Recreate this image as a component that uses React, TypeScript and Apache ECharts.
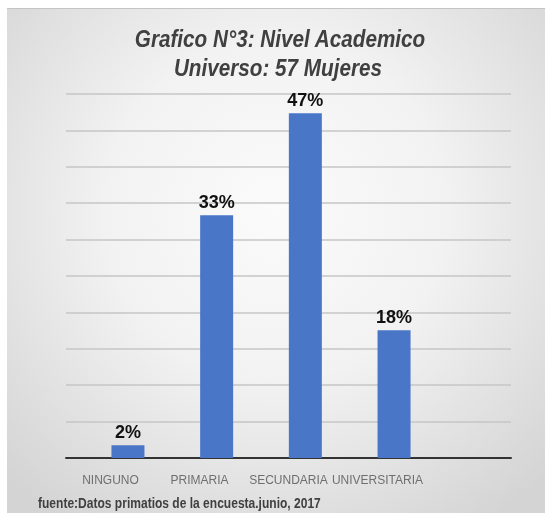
import React, { useEffect, useRef } from "react";
import * as echarts from "echarts";

const categories = ["NINGUNO", "PRIMARIA", "SECUNDARIA", "UNIVERSITARIA"];
const values = [1.75, 33.33, 47.37, 17.54];
const titleLines = ["Grafico N°3: Nivel Academico", "Universo: 57 Mujeres"];
const footer = "fuente:Datos primatios de la encuesta.junio, 2017";

const SANS = '"Liberation Sans", Arial, sans-serif';

export default function App() {
  const ref = useRef<HTMLDivElement>(null);
  useEffect(() => {
    if (!ref.current) return;
    const chart = echarts.init(ref.current, undefined, { renderer: "svg" });
    chart.setOption({
      animation: false,
      backgroundColor: "transparent",
      grid: [
        { left: 59, right: 34, top: 85, bottom: 55 },
        { left: 76.6, right: 106.6, top: 85, bottom: 55 },
      ],
      xAxis: [
        {
          type: "category",
          gridIndex: 0,
          data: [...categories, ""],
          axisLine: { show: true, lineStyle: { color: "#333333", width: 2 } },
          axisTick: { show: false },
          axisLabel: {
            color: "#6f6f6f",
            fontFamily: SANS,
            fontSize: 12,
            margin: 16,
            interval: 0,
          },
        },
        {
          type: "category",
          gridIndex: 1,
          data: categories,
          show: false,
        },
      ],
      yAxis: [
        {
          type: "value",
          gridIndex: 0,
          min: 0,
          max: 50,
          interval: 5,
          axisLabel: { show: false },
          axisLine: { show: false },
          axisTick: { show: false },
          splitLine: { show: true, lineStyle: { color: "#c6c6c6", width: 1.5 } },
        },
        {
          type: "value",
          gridIndex: 1,
          min: 0,
          max: 50,
          interval: 5,
          show: false,
          splitLine: { show: false },
        },
      ],
      series: [
        {
          type: "bar",
          xAxisIndex: 1,
          yAxisIndex: 1,
          data: values,
          barWidth: 33,
          itemStyle: { color: "#4a76c8" },
          label: {
            show: true,
            position: "top",
            distance: 4,
            formatter: (p: any) => Math.round(p.value) + "%",
            fontFamily: SANS,
            fontWeight: "bold",
            fontSize: 18,
            color: "#111111",
          },
        },
      ],
      graphic: [
        {
          type: "text",
          x: 273,
          y: 30.5,
          scaleX: 0.9,
          style: {
            text: titleLines[0],
            font: "italic bold 23px " + SANS,
            fill: "#404040",
            textAlign: "center",
            textVerticalAlign: "middle",
          },
        },
        {
          type: "text",
          x: 271,
          y: 59,
          scaleX: 0.9,
          style: {
            text: titleLines[1],
            font: "italic bold 23px " + SANS,
            fill: "#404040",
            textAlign: "center",
            textVerticalAlign: "middle",
          },
        },
        {
          type: "text",
          x: 31,
          y: 494,
          scaleX: 0.86,
          style: {
            text: footer,
            font: "bold 14px " + SANS,
            fill: "#404040",
            textAlign: "left",
            textVerticalAlign: "middle",
          },
        },
      ],
    });
    return () => chart.dispose();
  }, []);
  return (
    <div
      style={{
        position: "fixed",
        left: 7,
        top: 8,
        width: 538,
        height: 505,
        background:
          "radial-gradient(ellipse 70% 75% at 50% 40%, #fbfbfb 0%, #f2f2f2 45%, #d4d4d4 100%)",
        borderTop: "1px solid #c4c4c4",
        boxSizing: "border-box",
      }}
    >
      <div ref={ref} style={{ width: 538, height: 504 }} />
    </div>
  );
}
